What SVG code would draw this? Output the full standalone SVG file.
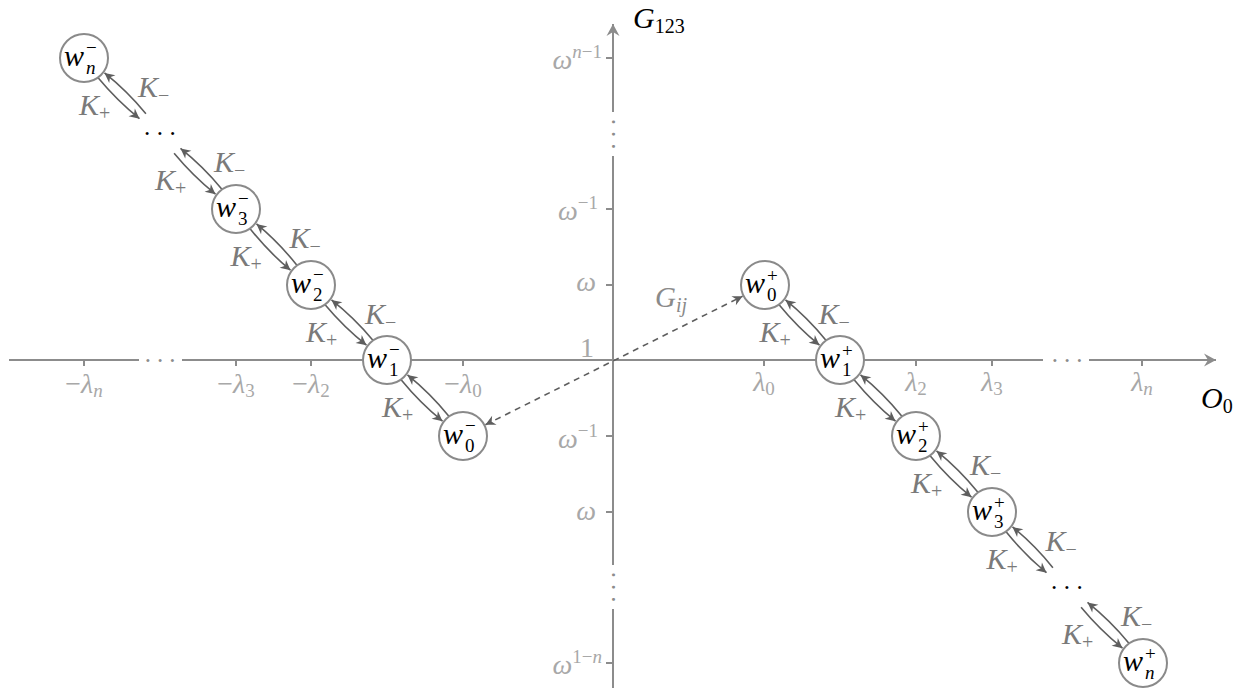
<svg xmlns="http://www.w3.org/2000/svg" width="1243" height="688" viewBox="0 0 1243 688">
<style>
text{font-family:"Liberation Serif","DejaVu Serif",serif;}
.ax{stroke:#8c8c8c;stroke-width:2;fill:none;}
.tk{stroke:#8c8c8c;stroke-width:2;}
.tl{fill:#a8a8a8;font-size:28px;}
.it{font-style:italic;}
.sc{font-size:19px;}
.ks{font-size:20px;}
.ed{stroke:#5e5e5e;stroke-width:1.6;fill:none;marker-end:url(#ah);}
.dash{stroke:#5e5e5e;stroke-width:1.6;fill:none;stroke-dasharray:6 5;marker-start:url(#ah);marker-end:url(#ah);}
.kl{fill:#7a7a7a;font-size:30px;}
.nd{fill:#fff;stroke:#8a8a8a;stroke-width:2;}
.nl{fill:#000;font-size:30px;font-style:italic;}
.ns{font-size:19px;font-style:normal;}
.nsi{font-size:19px;font-style:italic;}
.dots{fill:#000;font-size:25px;letter-spacing:6.5px;}
.adots{fill:#8c8c8c;font-size:25px;letter-spacing:6px;}
</style>
<defs>
<marker id="ah" viewBox="-11 -5.5 12 11" refX="0" refY="0" markerWidth="12" markerHeight="11" markerUnits="userSpaceOnUse" orient="auto-start-reverse">
<path d="M0,0 L-10,-5 L-7,0 L-10,5 z" fill="#5e5e5e"/>
</marker>
<marker id="axh" viewBox="-13 -7 14 14" refX="0" refY="0" markerWidth="14" markerHeight="14" markerUnits="userSpaceOnUse" orient="auto">
<path d="M0,0 L-12,-6.5 L-8,0 L-12,6.5 z" fill="#8c8c8c"/>
</marker>
</defs>
<rect width="1243" height="688" fill="#fff"/>

<g id="axes">
<path class="ax" d="M9,360 H139 M182,360 H1043"/>
<path class="ax" d="M1089,360 H1216" marker-end="url(#axh)"/>
<path class="ax" d="M613,688 V609 M613,565 V156"/>
<path class="ax" d="M613,112 V24" marker-end="url(#axh)"/>
<text class="adots" x="163" y="362" text-anchor="middle">...</text>
<text class="adots" x="1070" y="362" text-anchor="middle">...</text>
<text class="adots" x="0" y="0" text-anchor="middle" transform="translate(611.7,137) rotate(90)">...</text>
<text class="adots" x="0" y="0" text-anchor="middle" transform="translate(611.7,590) rotate(90)">...</text>
<path class="tk" d="M84,360 V366 M236,360 V366 M311,360 V366 M463,360 V366 M764,360 V366 M916,360 V366 M992,360 V366 M1142,360 V366"/>
<path class="tk" d="M606,58 H613 M606,209 H613 M606,285 H613 M606,436 H613 M606,512 H613 M606,663 H613"/>
<text class="tl" x="84" y="393" text-anchor="middle">−<tspan class="it">λ</tspan><tspan class="sc it" dy="4">n</tspan></text>
<text class="tl" x="236" y="393" text-anchor="middle">−<tspan class="it">λ</tspan><tspan class="sc" dy="4">3</tspan></text>
<text class="tl" x="311" y="393" text-anchor="middle">−<tspan class="it">λ</tspan><tspan class="sc" dy="4">2</tspan></text>
<text class="tl" x="463" y="393" text-anchor="middle">−<tspan class="it">λ</tspan><tspan class="sc" dy="4">0</tspan></text>
<text class="tl" x="764" y="391" text-anchor="middle"><tspan class="it">λ</tspan><tspan class="sc" dy="4">0</tspan></text>
<text class="tl" x="916" y="391" text-anchor="middle"><tspan class="it">λ</tspan><tspan class="sc" dy="4">2</tspan></text>
<text class="tl" x="992" y="391" text-anchor="middle"><tspan class="it">λ</tspan><tspan class="sc" dy="4">3</tspan></text>
<text class="tl" x="1142" y="391" text-anchor="middle"><tspan class="it">λ</tspan><tspan class="sc it" dy="4">n</tspan></text>
<text class="tl" x="602" y="69" text-anchor="end"><tspan class="it">ω</tspan><tspan class="sc" dy="-11"><tspan class="it">n</tspan>−1</tspan></text>
<text class="tl" x="598" y="220" text-anchor="end"><tspan class="it">ω</tspan><tspan class="sc" dy="-11">−1</tspan></text>
<text class="tl it" x="596" y="291" text-anchor="end">ω</text>
<text class="tl" x="587" y="357" text-anchor="middle">1</text>
<text class="tl" x="598" y="448" text-anchor="end"><tspan class="it">ω</tspan><tspan class="sc" dy="-11">−1</tspan></text>
<text class="tl it" x="596" y="520" text-anchor="end">ω</text>
<text class="tl" x="602" y="674" text-anchor="end"><tspan class="it">ω</tspan><tspan class="sc" dy="-11">1−<tspan class="it">n</tspan></tspan></text>
<text x="633" y="28" font-size="30" fill="#000"><tspan class="it">G</tspan><tspan class="ks" dy="5">123</tspan></text>
<text x="1201" y="408" font-size="30" fill="#000"><tspan class="it">O</tspan><tspan class="ks" dy="5">0</tspan></text>
</g>

<g id="connectors">
<path class="dash" d="M485.4,424.8 L742.6,296.2"/>
<text x="655" y="307" font-size="29" fill="#8a8a8a"><tspan class="it">G</tspan><tspan class="ks it" dy="5">ij</tspan></text>

<path class="ed" d="M98.1,77.8 Q117.1,100.7 139.5,118.7"/>
<path class="ed" d="M145.9,113.7 Q127,90.8 104.5,72.9"/>
<path class="ed" d="M174.1,153.3 Q193.1,176.2 215.5,194.2"/>
<path class="ed" d="M221.9,189.2 Q203,166.3 180.5,148.4"/>
<path class="ed" d="M250.1,228.8 Q268.6,252 290.5,270.2"/>
<path class="ed" d="M296.9,265.2 Q278.5,242.1 256.5,223.9"/>
<path class="ed" d="M325.1,304.8 Q344.1,327.5 366.5,345.2"/>
<path class="ed" d="M372.9,340.2 Q354,317.6 331.5,299.9"/>
<path class="ed" d="M401.1,379.8 Q420.1,403 442.5,421.2"/>
<path class="ed" d="M448.9,416.2 Q430,393.1 407.5,374.9"/>
<path class="ed" d="M779.1,304.8 Q797.6,327.5 819.5,345.2"/>
<path class="ed" d="M825.9,340.2 Q807.5,317.6 785.5,299.9"/>
<path class="ed" d="M854.1,379.8 Q873.1,403 895.5,421.2"/>
<path class="ed" d="M901.9,416.2 Q883,393.1 860.5,374.9"/>
<path class="ed" d="M930.1,455.8 Q949.1,479 971.5,497.2"/>
<path class="ed" d="M977.9,492.2 Q959,469.1 936.5,450.9"/>
<path class="ed" d="M1006.1,531.8 Q1024.6,554.7 1046.5,572.7"/>
<path class="ed" d="M1052.9,567.7 Q1034.5,544.8 1012.5,526.9"/>
<path class="ed" d="M1081.1,607.3 Q1100.1,630.2 1122.5,648.2"/>
<path class="ed" d="M1128.9,643.2 Q1110,620.3 1087.5,602.4"/>

<g id="edge-labels">
<text class="kl" x="138" y="97"><tspan class="it">K</tspan><tspan class="ks" dy="5">−</tspan></text>
<text class="kl" x="79" y="115"><tspan class="it">K</tspan><tspan class="ks" dy="5">+</tspan></text>
<text class="kl" x="214" y="172"><tspan class="it">K</tspan><tspan class="ks" dy="5">−</tspan></text>
<text class="kl" x="155" y="190"><tspan class="it">K</tspan><tspan class="ks" dy="5">+</tspan></text>
<text class="kl" x="289.5" y="248"><tspan class="it">K</tspan><tspan class="ks" dy="5">−</tspan></text>
<text class="kl" x="230.5" y="266"><tspan class="it">K</tspan><tspan class="ks" dy="5">+</tspan></text>
<text class="kl" x="365" y="323.5"><tspan class="it">K</tspan><tspan class="ks" dy="5">−</tspan></text>
<text class="kl" x="306" y="341.5"><tspan class="it">K</tspan><tspan class="ks" dy="5">+</tspan></text>
<text class="kl" x="382" y="417"><tspan class="it">K</tspan><tspan class="ks" dy="5">+</tspan></text>
<text class="kl" x="818.5" y="323.5"><tspan class="it">K</tspan><tspan class="ks" dy="5">−</tspan></text>
<text class="kl" x="759.5" y="341.5"><tspan class="it">K</tspan><tspan class="ks" dy="5">+</tspan></text>
<text class="kl" x="835" y="417"><tspan class="it">K</tspan><tspan class="ks" dy="5">+</tspan></text>
<text class="kl" x="970" y="475"><tspan class="it">K</tspan><tspan class="ks" dy="5">−</tspan></text>
<text class="kl" x="911" y="493"><tspan class="it">K</tspan><tspan class="ks" dy="5">+</tspan></text>
<text class="kl" x="1045.5" y="551"><tspan class="it">K</tspan><tspan class="ks" dy="5">−</tspan></text>
<text class="kl" x="986.5" y="569"><tspan class="it">K</tspan><tspan class="ks" dy="5">+</tspan></text>
<text class="kl" x="1121" y="626"><tspan class="it">K</tspan><tspan class="ks" dy="5">−</tspan></text>
<text class="kl" x="1062" y="644"><tspan class="it">K</tspan><tspan class="ks" dy="5">+</tspan></text>
</g>
</g>

<g id="node-wn-minus"><circle class="nd" cx="84" cy="58" r="24"/><text class="nl" x="64" y="66">w<tspan class="ns" x="86" y="54">−</tspan><tspan class="nsi" x="86" y="74">n</tspan></text></g>
<g id="node-dots-minus"><text class="dots" x="163" y="135" text-anchor="middle">...</text></g>
<g id="node-w3-minus"><circle class="nd" cx="236" cy="209" r="24"/><text class="nl" x="216" y="217">w<tspan class="ns" x="238" y="205">−</tspan><tspan class="ns" x="238" y="225">3</tspan></text></g>
<g id="node-w2-minus"><circle class="nd" cx="311" cy="285" r="24"/><text class="nl" x="291" y="293">w<tspan class="ns" x="313" y="281">−</tspan><tspan class="ns" x="313" y="301">2</tspan></text></g>
<g id="node-w1-minus"><circle class="nd" cx="387" cy="360" r="24"/><text class="nl" x="367" y="368">w<tspan class="ns" x="389" y="356">−</tspan><tspan class="ns" x="389" y="376">1</tspan></text></g>
<g id="node-w0-minus"><circle class="nd" cx="463" cy="436" r="24"/><text class="nl" x="443" y="444">w<tspan class="ns" x="465" y="432">−</tspan><tspan class="ns" x="465" y="452">0</tspan></text></g>

<g id="node-w0-plus"><circle class="nd" cx="765" cy="285" r="24"/><text class="nl" x="745" y="293">w<tspan class="ns" x="767" y="282">+</tspan><tspan class="ns" x="767" y="301">0</tspan></text></g>
<g id="node-w1-plus"><circle class="nd" cx="840" cy="360" r="24"/><text class="nl" x="820" y="368">w<tspan class="ns" x="842" y="357">+</tspan><tspan class="ns" x="842" y="376">1</tspan></text></g>
<g id="node-w2-plus"><circle class="nd" cx="916" cy="436" r="24"/><text class="nl" x="896" y="444">w<tspan class="ns" x="918" y="433">+</tspan><tspan class="ns" x="918" y="452">2</tspan></text></g>
<g id="node-w3-plus"><circle class="nd" cx="992" cy="512" r="24"/><text class="nl" x="972" y="520">w<tspan class="ns" x="994" y="509">+</tspan><tspan class="ns" x="994" y="528">3</tspan></text></g>
<g id="node-dots-plus"><text class="dots" x="1070" y="589" text-anchor="middle">...</text></g>
<g id="node-wn-plus"><circle class="nd" cx="1143" cy="663" r="24"/><text class="nl" x="1123" y="671">w<tspan class="ns" x="1145" y="660">+</tspan><tspan class="nsi" x="1145" y="679">n</tspan></text></g>
</svg>
